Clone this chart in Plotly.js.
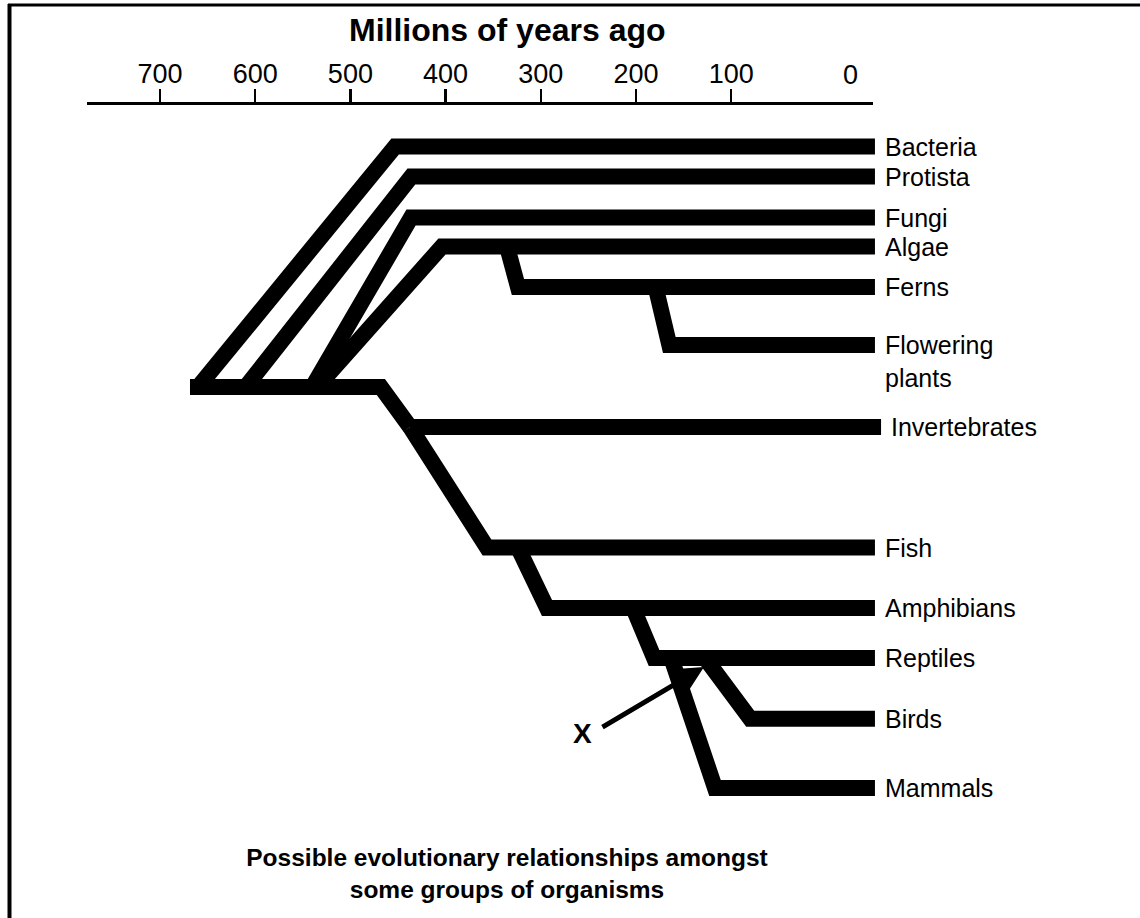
<!DOCTYPE html>
<html>
<head>
<meta charset="utf-8">
<script src="https://cdn.plot.ly/plotly-3.0.1.min.js"></script>
<style>html,body{margin:0;padding:0;background:#fff;}#chart{width:1140px;height:918px;}</style>
</head>
<body>
<div id="chart"></div>
<script>
// ---- time axis (millions of years ago) ----
const xTickVals = [700, 600, 500, 400, 300, 200, 100];
const xTickText = ['700', '600', '500', '400', '300', '200', '100'];
const presentLabel = '0';
const presentLabelMya = -25;

// ---- tree: one entry per group of organisms ----
const taxa = ['Bacteria', 'Protista', 'Fungi', 'Algae', 'Ferns', 'Flowering<br>plants',
              'Invertebrates', 'Fish', 'Amphibians', 'Reptiles', 'Birds', 'Mammals'];
const taxonRow  = [146.5, 176.5, 217.5, 246.5, 287, 345, 427, 547.5, 608, 658, 718.7, 788];
const splitMya  = [660, 610, 540, 535, 335.5, 179.4, 437.4, 437.4, 324, 203, 127.5, 163];
const parentRow = [387, 387, 387, 387, 246.5, 287, 427, 427, 547.5, 608, 658, 658];
const cornerMya = [453, 436, 436.3, 403.8, 324, 165, 437.4, 356.5, 293.5, 181, 80, 117];
const tipMya    = [-51, -51, -51, -51, -51, -51, -57.4, -51, -51, -51, -51, -51];

// common ancestor stem
const stemMya = [668.5, 468, 437.4];
const stemRow = [387, 387, 427];

// marked point X (arrow from label to branching point)
const markLabel = 'X';
const markLabelMya = 255.7, markLabelRow = 733;
const markTailMya = 236.8, markTailRow = 728;
const markHeadMya = 128.6, markHeadRow = 667;

// ---- build traces ----
const bx = [], by = [];
for (let i = 0; i < taxa.length; i++) {
  bx.push(splitMya[i], cornerMya[i], tipMya[i], null);
  by.push(parentRow[i], taxonRow[i], taxonRow[i], null);
}
const FONT = 'Liberation Sans, Arial, Helvetica, sans-serif';

const traces = [
  { type: 'scatter', mode: 'lines', x: stemMya, y: stemRow, xaxis: 'x2', yaxis: 'y',
    line: { color: '#000', width: 16 }, hoverinfo: 'skip', showlegend: false },
  { type: 'scatter', mode: 'lines', x: bx, y: by, xaxis: 'x2', yaxis: 'y',
    line: { color: '#000', width: 16 }, hoverinfo: 'skip', showlegend: false, connectgaps: false },
  { type: 'scatter', mode: 'none', x: [xTickVals[0]], y: [0], xaxis: 'x', yaxis: 'y',
    hoverinfo: 'skip', showlegend: false }
];

const annotations = [];
for (let i = 0; i < taxa.length; i++) {
  const nLines = taxa[i].split('<br>').length;
  annotations.push({
    x: tipMya[i] - 8.4, y: taxonRow[i], xref: 'x2', yref: 'y',
    text: taxa[i], showarrow: false, xanchor: 'left', yanchor: 'middle', align: 'left',
    yshift: -(nLines - 1) * 16.5,
    font: { family: FONT, size: 25, color: '#000' }
  });
}
annotations.push({
  x: presentLabelMya, y: 1 - 75 / 918, xref: 'x', yref: 'paper', text: presentLabel,
  showarrow: false, xanchor: 'center', yanchor: 'middle',
  font: { family: FONT, size: 27, color: '#000' }
});
annotations.push({
  x: 507 / 1140, y: 1 - 30 / 918, xref: 'paper', yref: 'paper',
  text: '<b>Millions of years ago</b>', showarrow: false, xanchor: 'center', yanchor: 'middle',
  font: { family: FONT, size: 32, color: '#000' }
});
annotations.push({
  x: markLabelMya, y: markLabelRow, xref: 'x2', yref: 'y', text: '<b>' + markLabel + '</b>',
  showarrow: false, xanchor: 'center', yanchor: 'middle',
  font: { family: FONT, size: 28, color: '#000' }
});
annotations.push({
  x: markHeadMya, y: markHeadRow, xref: 'x2', yref: 'y',
  ax: markTailMya, ay: markTailRow, axref: 'x2', ayref: 'y',
  text: '', showarrow: true, arrowhead: 2, arrowsize: 1.1, arrowwidth: 5, arrowcolor: '#000',
  standoff: 0, startstandoff: 0
});

const layout = {
  width: 1140, height: 918,
  margin: { l: 0, r: 0, t: 0, b: 0, pad: 0 },
  paper_bgcolor: '#fff', plot_bgcolor: 'rgba(0,0,0,0)',
  showlegend: false,
  title: {
    text: '<b>Possible evolutionary relationships amongst<br>some groups of organisms</b>',
    x: 507 / 1140, xanchor: 'center', xref: 'paper',
    y: 1 - 866 / 918, yanchor: 'middle', yref: 'container',
    font: { family: FONT, size: 24.5, color: '#000' }
  },
  xaxis: {
    domain: [87 / 1140, 873 / 1140], range: [776.68, -48.95],
    anchor: 'free', position: 1 - 103 / 918, side: 'top',
    showline: true, linecolor: '#000', linewidth: 3,
    ticks: 'outside', ticklen: 13, tickwidth: 2.5, tickcolor: '#000',
    tickvals: xTickVals, ticktext: xTickText, ticklabelstandoff: -5,
    tickfont: { family: FONT, size: 27, color: '#000' },
    showgrid: false, zeroline: false, fixedrange: true
  },
  xaxis2: {
    domain: [0, 1], range: [868.07, -329.41], anchor: 'y',
    visible: false, showgrid: false, zeroline: false, fixedrange: true
  },
  yaxis: {
    domain: [0, 1], range: [918, 0], visible: false,
    showgrid: false, zeroline: false, fixedrange: true
  },
  shapes: [
    { type: 'line', xref: 'paper', yref: 'paper', x0: 8 / 1140, x1: 1, y0: 1 - 5 / 918, y1: 1 - 5 / 918,
      line: { color: '#000', width: 3 } },
    { type: 'line', xref: 'paper', yref: 'paper', x0: 9.5 / 1140, x1: 9.5 / 1140, y0: 1 - 4 / 918, y1: 0,
      line: { color: '#000', width: 4 } }
  ],
  annotations: annotations
};

Plotly.newPlot('chart', traces, layout, { staticPlot: true, displayModeBar: false });
</script>
</body>
</html>
